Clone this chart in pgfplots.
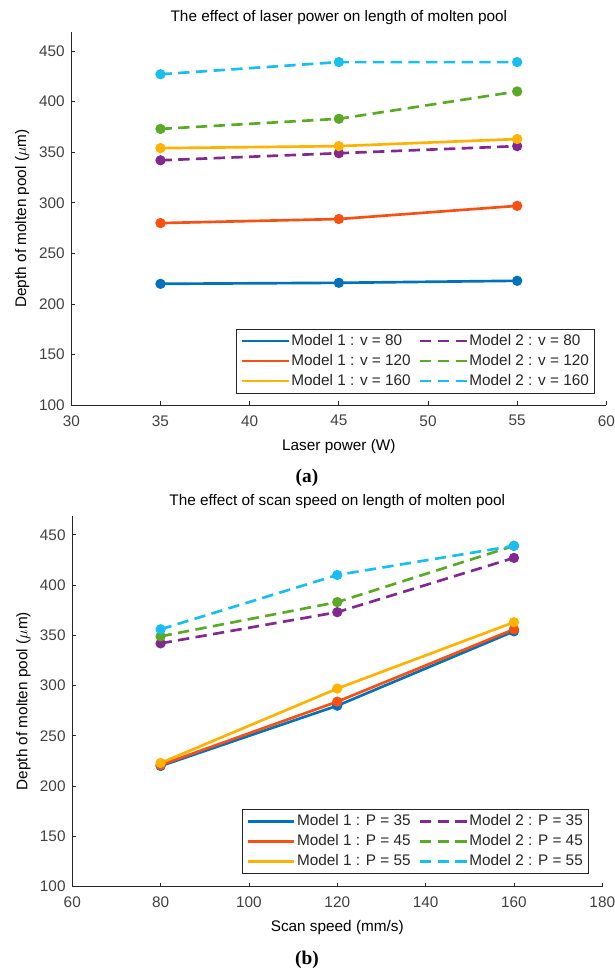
\documentclass[border=0pt]{standalone}
\usepackage{fontspec}
\setmainfont{Liberation Sans}
\newfontfamily\capfont{Liberation Serif}
\usepackage{pgfplots}
\pgfplotsset{compat=1.18}

\definecolor{c1}{RGB}{0,114,189}
\definecolor{c2}{RGB}{248,80,18}
\definecolor{c3}{RGB}{255,178,0}
\definecolor{c4}{RGB}{130,40,145}
\definecolor{c5}{RGB}{90,170,40}
\definecolor{c6}{RGB}{25,190,240}
\definecolor{axc}{RGB}{38,38,38}
\definecolor{txc}{RGB}{64,64,64}

\pgfplotsset{
  mstyle/.style={
    scale only axis,
    axis x line*=bottom, axis y line*=left,
    axis line style={-, draw=axc, line width=0.6pt},
    tick align=inside, major tick length=3pt,
    tick style={draw=axc, line width=0.6pt},
    ymin=100, ymax=469, ytick={100,150,...,450},
    font=\fontsize{11.5}{13}\selectfont,
    tick label style={text=txc, font=\fontsize{11.5}{13}\selectfont},
    /pgf/number format/assume math mode=true,
    yticklabel style={xshift=-1.5pt},
    xticklabel style={yshift=-4pt},
    label style={text=txc, font=\fontsize{12.4}{14}\selectfont},
    title style={font=\bfseries\fontsize{13.5}{15}\selectfont, text=black},
    every axis title/.style={at={(axis description cs:0.5,1.037)}, anchor=center},
    every axis x label/.style={at={(axis description cs:0.5,-0.11)}, anchor=center},
    every axis y label/.style={at={(axis description cs:-0.092,0.5)}, anchor=center, rotate=90},
    legend columns=2,
    legend cell align=left,
    legend style={draw=axc, line width=0.5pt, fill=white, text=axc,
      font=\fontsize{11.5}{13}\selectfont,
      inner xsep=3pt, inner ysep=2.5pt, row sep=2pt,
      /tikz/every even column/.append style={column sep=5pt},
      nodes={inner sep=1pt, text height=8.5pt, text depth=2.5pt}},
    legend image code/.code={\draw[#1,mark=none] (0pt,0pt) -- (35pt,0pt);},
  },
  m1/.style={solid, line width=2pt, mark=*, mark size=2.8pt, mark options={solid}},
  m2/.style={dash pattern=on 8.5pt off 4.8pt, line width=2pt, mark=*, mark size=2.8pt, mark options={solid}},
}

\begin{document}
\begin{tikzpicture}
\useasboundingbox (0pt,0pt) rectangle (460.5pt,730.5pt);

% ---------- (a) ----------
\begin{axis}[mstyle,
  at={(53.5pt,426.5pt)}, anchor=south west,
  width=401.25pt, height=280.2pt,
  xmin=30, xmax=60, xtick={30,35,...,60},
  title={The effect of laser power on length of molten pool},
  xlabel={Laser power (W)},
  ylabel={Depth of molten pool ($\mu$m)},
  legend style={at={(0.978,0.032)}, anchor=south east},
]
\addplot[m1, color=c1] coordinates {(35,220) (45,221) (55,223)};
\addlegendentry{Model 1 : v = 80}
\addplot[m2, color=c4] coordinates {(35,342) (45,349) (55,356)};
\addlegendentry{Model 2 : v = 80}
\addplot[m1, color=c2] coordinates {(35,280) (45,284) (55,297)};
\addlegendentry{Model 1 : v = 120}
\addplot[m2, color=c5] coordinates {(35,373) (45,383) (55,410)};
\addlegendentry{Model 2 : v = 120}
\addplot[m1, color=c3] coordinates {(35,354) (45,356) (55,363)};
\addlegendentry{Model 1 : v = 160}
\addplot[m2, color=c6] coordinates {(35,427) (45,439) (55,439)};
\addlegendentry{Model 2 : v = 160}
\end{axis}

% ---------- (b) ----------
\begin{axis}[mstyle,
  at={(54.2pt,65.5pt)}, anchor=south west,
  width=397.5pt, height=278.25pt,
  xmin=60, xmax=180, xtick={60,80,...,180},
  title={The effect of scan speed on length of molten pool},
  xlabel={Scan speed (mm/s)},
  ylabel={Depth of molten pool ($\mu$m)},
  legend style={at={(0.974,0.034)}, anchor=south east},
]
\addplot[m1, color=c1] coordinates {(80,220) (120,280) (160,354)};
\addlegendentry{Model 1 : P = 35}
\addplot[m2, color=c4] coordinates {(80,342) (120,373) (160,427)};
\addlegendentry{Model 2 : P = 35}
\addplot[m1, color=c2] coordinates {(80,221) (120,284) (160,356)};
\addlegendentry{Model 1 : P = 45}
\addplot[m2, color=c5] coordinates {(80,349) (120,383) (160,439)};
\addlegendentry{Model 2 : P = 45}
\addplot[m1, color=c3] coordinates {(80,223) (120,297) (160,363)};
\addlegendentry{Model 1 : P = 55}
\addplot[m2, color=c6] coordinates {(80,356) (120,410) (160,439)};
\addlegendentry{Model 2 : P = 55}
\end{axis}

\node[font=\capfont\bfseries\fontsize{14.5}{16}\selectfont] at (230.25pt,372pt) {(a)};
\node[font=\capfont\bfseries\fontsize{14.5}{16}\selectfont] at (230.25pt,10.5pt) {(b)};
\end{tikzpicture}
\end{document}
